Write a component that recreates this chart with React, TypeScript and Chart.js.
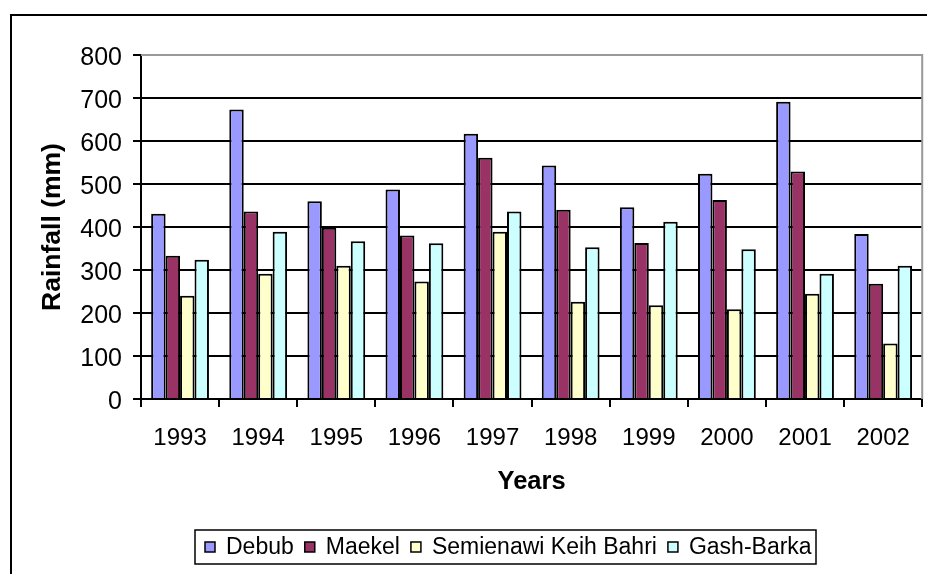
import React, { useEffect, useRef } from "react";
import { Chart, registerables } from "chart.js";

Chart.register(...registerables);

const years = ["1993", "1994", "1995", "1996", "1997", "1998", "1999", "2000", "2001", "2002"];
const debub = [431, 673, 460, 487, 617, 543, 446, 524, 691, 384];
const maekel = [333, 436, 398, 380, 561, 440, 363, 463, 529, 268];
const semienawi = [240, 291, 310, 273, 389, 226, 218, 209, 245, 129];
const gashBarka = [324, 389, 367, 362, 436, 353, 412, 348, 291, 310];
const seriesNames = ["Debub", "Maekel", "Semienawi Keih Bahri", "Gash-Barka"];
const seriesColors = ["#9999FF", "#993366", "#FFFFCC", "#CCFFFF"];

const FONT = "'Liberation Sans', Arial, sans-serif";

const framePlugin = {
  id: "framePlugin",
  afterDraw(chart: any) {
    const ctx = chart.ctx;
    const ca = chart.chartArea;
    ctx.save();
    // plot area border (grey top & right)
    ctx.strokeStyle = "#999999";
    ctx.lineWidth = 2;
    ctx.beginPath();
    ctx.moveTo(ca.left, ca.top);
    ctx.lineTo(ca.right, ca.top);
    ctx.lineTo(ca.right, ca.bottom);
    ctx.stroke();
    // outer frame
    ctx.strokeStyle = "#000000";
    ctx.lineWidth = 2;
    ctx.strokeRect(11, 15, 1000, 700);
    // legend
    const boxL = 195, boxT = 530, boxR = 816, boxB = 564;
    ctx.lineWidth = 1.5;
    ctx.strokeRect(boxL, boxT, boxR - boxL, boxB - boxT);
    ctx.font = "23px " + FONT;
    ctx.textBaseline = "middle";
    ctx.textAlign = "left";
    let x = 205;
    const cy = 547;
    chart.data.datasets.forEach((ds: any) => {
      ctx.fillStyle = ds.backgroundColor;
      ctx.fillRect(x, cy - 5, 10, 10);
      ctx.strokeStyle = "#000";
      ctx.lineWidth = 1.5;
      ctx.strokeRect(x, cy - 5, 10, 10);
      x += 10 + 11;
      ctx.fillStyle = "#000";
      ctx.fillText(ds.label, x, cy + 1);
      x += ctx.measureText(ds.label).width + 11;
    });
    ctx.restore();
  },
};

export default function App() {
  const ref = useRef<HTMLCanvasElement | null>(null);
  useEffect(() => {
    document.body.style.margin = "0";
    const allData = [debub, maekel, semienawi, gashBarka];
    const chart = new Chart(ref.current as HTMLCanvasElement, {
      type: "bar",
      data: {
        labels: years,
        datasets: allData.map((d, i) => ({
          label: seriesNames[i],
          data: d,
          backgroundColor: seriesColors[i],
          borderColor: "#000000",
          borderWidth: 2,
          categoryPercentage: 0.74,
          barPercentage: 1.0,
        })),
      },
      options: {
        responsive: false,
        animation: false,
        devicePixelRatio: 1,
        layout: { padding: { top: 55, right: 3, left: 0, bottom: 0 } },
        plugins: {
          legend: { display: false },
          tooltip: { enabled: false },
          title: { display: false },
        },
        scales: {
          x: {
            offset: true,
            grid: {
              display: true,
              drawOnChartArea: false,
              drawTicks: true,
              tickLength: 8,
              color: "#000",
              lineWidth: 2,
              offset: true,
            },
            border: { display: true, color: "#000", width: 2 },
            ticks: {
              color: "#000",
              font: { family: FONT, size: 24 },
              padding: 17,
              maxRotation: 0,
              autoSkip: false,
            },
            title: {
              display: true,
              text: "Years",
              color: "#000",
              font: { family: FONT, size: 25.5, weight: "bold" },
              padding: { top: 0, bottom: 77 },
            },
            afterFit(scale: any) {
              scale.height = 175;
            },
          },
          y: {
            min: 0,
            max: 800,
            grid: {
              color: (c: any) => (c.tick && c.tick.value === 800 ? "#999999" : "#000000"),
              tickColor: "#000",
              lineWidth: 2,
              drawTicks: true,
              tickLength: 8,
            },
            border: { display: true, color: "#000", width: 2 },
            ticks: {
              stepSize: 100,
              color: "#000",
              font: { family: FONT, size: 25 },
              padding: 11,
              labelOffset: 3,
            },
            title: {
              display: true,
              text: "Rainfall (mm)",
              color: "#000",
              font: { family: FONT, size: 26.5, weight: "bold" },
              padding: { top: 37, bottom: 0 },
            },
            afterFit(scale: any) {
              scale.width = 141;
            },
          },
        },
      },
      plugins: [framePlugin],
    } as any);
    return () => chart.destroy();
  }, []);
  return (
    <div style={{ position: "absolute", left: 0, top: 0, width: 927, height: 574, background: "#fff" }}>
      <canvas ref={ref} width={927} height={574} style={{ width: 927, height: 574, display: "block" }} />
    </div>
  );
}
